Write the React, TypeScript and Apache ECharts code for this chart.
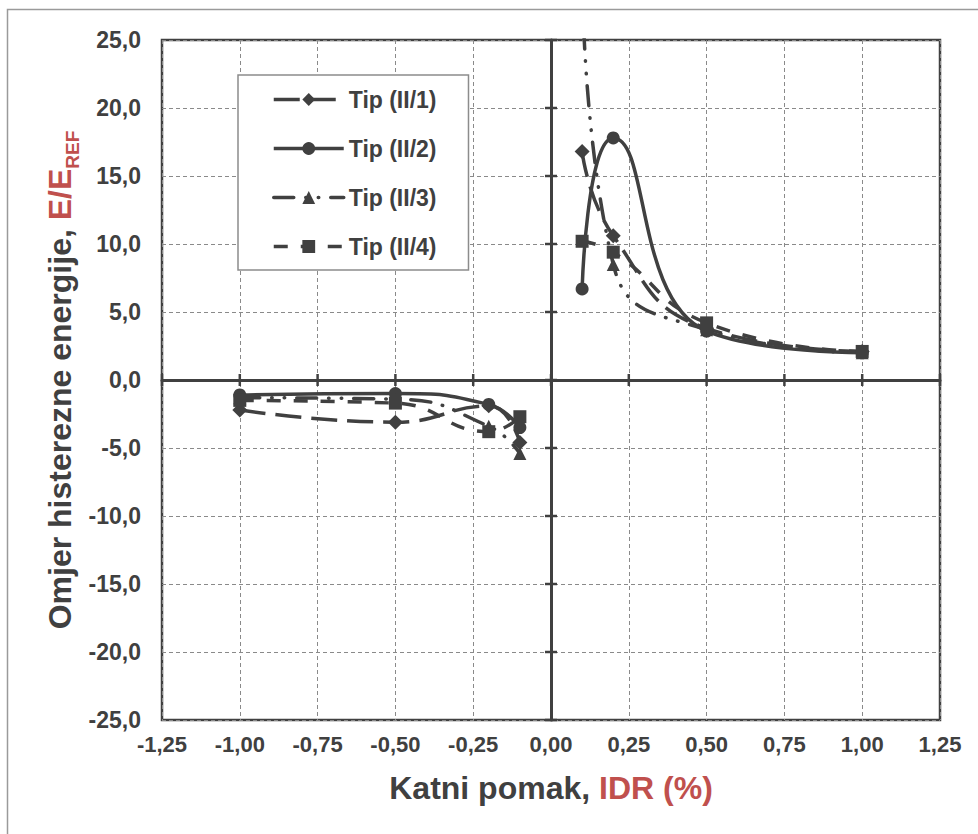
import React, { useEffect, useRef } from "react";
import * as echarts from "echarts";

// ---- data ----
const NAMES = ["Tip (II/1)", "Tip (II/2)", "Tip (II/3)", "Tip (II/4)"];
const X_NEG = [-1.0, -0.5, -0.2, -0.1];
const X_POS = [0.1, 0.2, 0.5, 1.0];

const TIP1_NEG = [-2.2, -3.1, -1.9, -4.6];
const TIP1_POS = [16.8, 10.6, 3.8, 2.1];
const TIP2_NEG = [-1.1, -1.0, -1.8, -3.5];
const TIP2_POS = [6.7, 17.8, 3.6, 2.0];
const TIP3_NEG = [-1.3, -1.4, -3.4, -5.4];
const TIP3_POS = [30.0, 8.5, 3.7, 2.0];
const TIP4_NEG = [-1.5, -1.7, -3.8, -2.7];
const TIP4_POS = [10.2, 9.4, 4.2, 2.1];

const X_TICKS = { min: -1.25, max: 1.25, step: 0.25 };
const Y_TICKS = { min: -25, max: 25, step: 5 };

// ---- styles ----
const DARK = "#404040";
const RED = "#C0504D";
const FONT = '"Liberation Sans", Arial, sans-serif';
const SYMBOLS = ["diamond", "circle", "triangle", "rect"];
const SYMBOL_SIZES = [15, 13, 13, 13];
const DASHES: any[] = [[26, 10], "solid", [20, 12, 0.5, 12, 0.5, 12], [14, 13]];
const CAPS = ["butt", "butt", "round", "butt"];

const NEG_VALUES = [TIP1_NEG, TIP2_NEG, TIP3_NEG, TIP4_NEG];
const POS_VALUES = [TIP1_POS, TIP2_POS, TIP3_POS, TIP4_POS];

function pairs(xs: number[], ys: number[]) {
  return xs.map((x, i) => [x, ys[i]]);
}

function tickValues(t: { min: number; max: number; step: number }) {
  const out: number[] = [];
  const n = Math.round((t.max - t.min) / t.step);
  for (let i = 0; i <= n; i++) out.push(+(t.min + i * t.step).toFixed(6));
  return out;
}

export default function App() {
  const ref = useRef<HTMLDivElement>(null);

  useEffect(() => {
    if (!ref.current) return;
    const chart = echarts.init(ref.current, undefined, { renderer: "svg" });

    // measure y title parts
    const ctx = document.createElement("canvas").getContext("2d")!;
    ctx.font = `bold 32px ${FONT}`;
    const wMain = ctx.measureText("Omjer histerezne energije, E/E").width;
    ctx.font = `bold 19px ${FONT}`;
    const wSub = ctx.measureText("REF").width;
    const total = wMain + wSub;

    const series: any[] = [];
    NAMES.forEach((name, i) => {
      [pairs(X_NEG, NEG_VALUES[i]), pairs(X_POS, POS_VALUES[i])].forEach((data) => {
        series.push({
          type: "line",
          name,
          data,
          xAxisIndex: 0,
          yAxisIndex: 0,
          smooth: 0.5,
          symbol: SYMBOLS[i],
          symbolSize: SYMBOL_SIZES[i],
          showSymbol: true,
          clip: true,
          itemStyle: { color: DARK, borderWidth: 0 },
          lineStyle: { color: DARK, width: 3.5, type: DASHES[i], cap: CAPS[i] },
          emphasis: { disabled: true },
          z: 3,
        });
      });
    });

    // cross ticks on the zero axes (drawn as thin rect symbols)
    series.push({
      type: "scatter",
      name: "xticks",
      xAxisIndex: 0,
      yAxisIndex: 0,
      clip: false,
      silent: true,
      symbol: "rect",
      symbolSize: [2.5, 12],
      itemStyle: { color: DARK, borderWidth: 0, opacity: 1 },
      emphasis: { disabled: true },
      z: 2,
      data: tickValues(X_TICKS).map((x) => [x, 0]),
    });
    series.push({
      type: "scatter",
      name: "yticks",
      xAxisIndex: 0,
      yAxisIndex: 0,
      clip: false,
      silent: true,
      symbol: "rect",
      symbolSize: [12, 2.5],
      itemStyle: { color: DARK, borderWidth: 0, opacity: 1 },
      emphasis: { disabled: true },
      z: 2,
      data: tickValues(Y_TICKS).map((y) => [0, y]),
    });

    const baseX = {
      type: "value",
      min: X_TICKS.min,
      max: X_TICKS.max,
      interval: X_TICKS.step,
    };
    const baseY = {
      type: "value",
      min: Y_TICKS.min,
      max: Y_TICKS.max,
      interval: Y_TICKS.step,
    };

    const option: any = {
      animation: false,
      backgroundColor: "#ffffff",
      grid: {
        left: 162,
        right: 38,
        top: 40,
        bottom: 114,
        show: true,
        borderColor: DARK,
        borderWidth: 2.5,
        backgroundColor: "transparent",
        containLabel: false,
        outerBoundsMode: "none",
      },
      xAxis: [
        {
          ...baseX,
          position: "bottom",
          axisLine: { show: false, onZero: false },
          axisTick: { show: false },
          axisLabel: {
            margin: 13,
            color: DARK,
            fontFamily: FONT,
            fontWeight: "bold",
            fontSize: 22,
            formatter: (v: number) => v.toFixed(2).replace(".", ","),
          },
          splitLine: {
            show: true,
            lineStyle: { color: "#8a8a8a", width: 1, type: [4, 3] },
          },
        },
        {
          ...baseX,
          position: "bottom",
          axisLine: { show: true, onZero: true, onZeroAxisIndex: 0, lineStyle: { color: DARK, width: 3 } },
          axisTick: { show: false },
          axisLabel: { show: false },
          splitLine: { show: false },
        },
      ],
      yAxis: [
        {
          ...baseY,
          position: "left",
          axisLine: { show: false, onZero: false },
          axisTick: { show: false },
          axisLabel: {
            margin: 21,
            color: DARK,
            fontFamily: FONT,
            fontWeight: "bold",
            fontSize: 23,
            formatter: (v: number) => v.toFixed(1).replace(".", ","),
          },
          splitLine: {
            show: true,
            lineStyle: { color: "#8a8a8a", width: 1, type: [4, 3] },
          },
        },
        {
          ...baseY,
          position: "left",
          axisLine: { show: true, onZero: true, onZeroAxisIndex: 0, lineStyle: { color: DARK, width: 3 } },
          axisTick: { show: false },
          axisLabel: { show: false },
          splitLine: { show: false },
        },
      ],
      legend: {
        show: true,
        orient: "vertical",
        left: 238,
        top: 75,
        padding: [13, 32, 12, 34],
        itemGap: 26,
        itemWidth: 70,
        itemHeight: 16,
        backgroundColor: "#ffffff",
        borderColor: "#8c8c8c",
        borderWidth: 1.5,
        borderRadius: 0,
        selectedMode: false,
        data: NAMES,
        lineStyle: { width: 3.5 },
        textStyle: {
          color: DARK,
          fontFamily: FONT,
          fontWeight: "bold",
          fontSize: 23,
          lineHeight: 22,
        },
      },
      graphic: [
        {
          type: "rect",
          silent: true,
          shape: { x: 7.5, y: 9.5, width: 1000, height: 900 },
          style: { fill: "none", stroke: "#9a9a9a", lineWidth: 1.5 },
          z: -10,
        },
        {
          type: "text",
          x: 551,
          y: 788,
          style: {
            text: "{a|Katni pomak, }{b|IDR (%)}",
            align: "center",
            verticalAlign: "middle",
            textAlign: "center",
            textVerticalAlign: "middle",
            rich: {
              a: { fontFamily: FONT, fontWeight: "bold", fontSize: 32, fill: DARK, color: DARK },
              b: { fontFamily: FONT, fontWeight: "bold", fontSize: 32, fill: RED, color: RED },
            },
          },
        },
        {
          type: "group",
          x: 71,
          y: 380,
          rotation: Math.PI / 2,
          children: [
            {
              type: "text",
              x: -total / 2,
              y: -11,
              style: {
                text: "{a|Omjer histerezne energije, }{b|E/E}",
                align: "left",
                verticalAlign: "middle",
                textAlign: "left",
                textVerticalAlign: "middle",
                rich: {
                  a: { fontFamily: FONT, fontWeight: "bold", fontSize: 32, fill: DARK, color: DARK },
                  b: { fontFamily: FONT, fontWeight: "bold", fontSize: 32, fill: RED, color: RED },
                },
              },
            },
            {
              type: "text",
              x: -total / 2 + wMain,
              y: 1,
              style: {
                text: "REF",
                fontFamily: FONT,
                fontWeight: "bold",
                fontSize: 19,
                fill: RED,
                align: "left",
                verticalAlign: "middle",
                textAlign: "left",
                textVerticalAlign: "middle",
              },
            },
          ],
        },
      ],
      series,
    };

    chart.setOption(option);
    return () => chart.dispose();
  }, []);

  return (
    <div
      ref={ref}
      style={{ position: "absolute", left: 0, top: 0, width: 978, height: 834 }}
    />
  );
}
